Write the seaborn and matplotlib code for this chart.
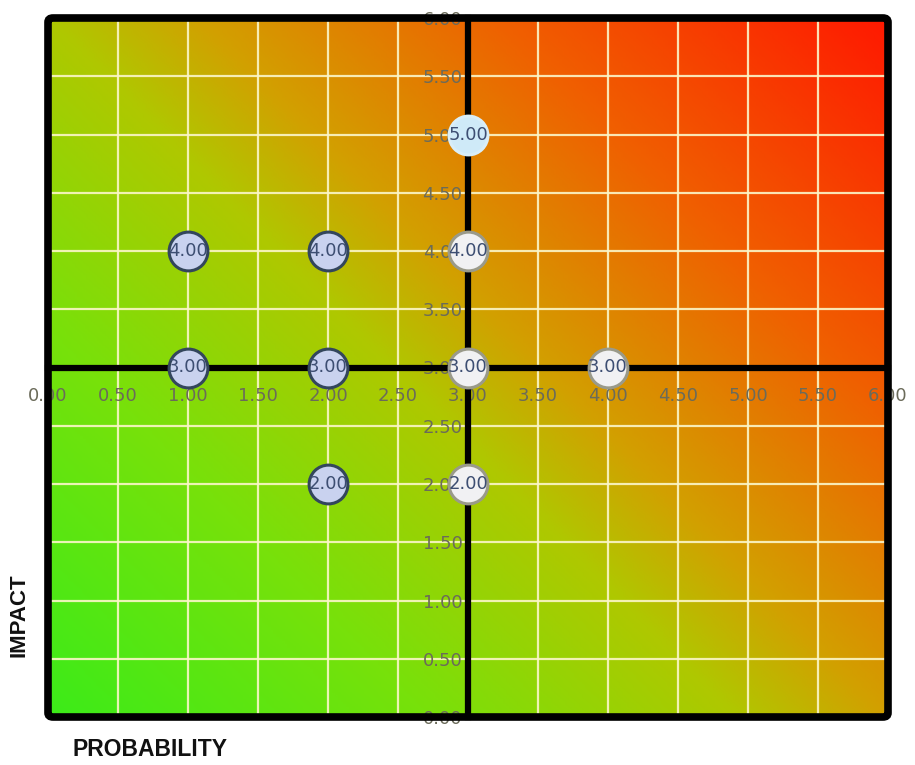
import numpy as np
import pandas as pd
import matplotlib
matplotlib.use('Agg')
import matplotlib.pyplot as plt
import seaborn as sns
from matplotlib.patches import FancyBboxPatch
from matplotlib.colors import LinearSegmentedColormap

# 데이터
probability = [1, 2, 3, 3, 1, 2, 3, 4, 2, 3]
impact = [4, 4, 5, 4, 3, 3, 3, 3, 2, 2]
group = ['blue', 'blue', 'sky', 'white', 'blue', 'blue', 'white', 'white', 'blue', 'white']
ticks = [0.0, 0.5, 1.0, 1.5, 2.0, 2.5, 3.0, 3.5, 4.0, 4.5, 5.0, 5.5, 6.0]

df = pd.DataFrame({'prob': probability, 'impact': impact, 'group': group})

sns.set_style('white')
plt.rcParams['font.family'] = ['DejaVu Sans']

fig = plt.figure(figsize=(9.15, 7.65), dpi=100)
ax = fig.add_axes([48/915, 1-717/765, 840/915, 699/765])

# 배경 그라데이션 (초록 -> 노랑 -> 빨강), 대각선 방향
cols = [(0.0, (60, 235, 25)), (0.25, (120, 225, 10)), (0.45, (175, 200, 0)),
        (0.55, (210, 160, 0)), (0.75, (240, 95, 0)), (1.0, (255, 25, 0))]
cmap = LinearSegmentedColormap.from_list('risk', [(p, tuple(c/255 for c in rgb)) for p, rgb in cols])
u = np.linspace(0, 1, 300)
U, V = np.meshgrid(u, u)
T = 0.55*U + 0.45*V
ax.imshow(T, cmap=cmap, vmin=0, vmax=1, extent=[0, 6, 0, 6], origin='lower',
          aspect='auto', zorder=0, interpolation='bilinear')

ax.set_xlim(0, 6)
ax.set_ylim(0, 6)
ax.set_xticks(ticks)
ax.set_yticks(ticks)
ax.set_xticklabels([f'{t:.2f}' for t in ticks])
ax.set_yticklabels([f'{t:.2f}' for t in ticks])
ax.set_axisbelow(True)
ax.grid(True, color='#fbf6c8', lw=1.6, alpha=0.9)
ax.tick_params(length=0, labelsize=13, labelcolor='#6b6b5a')
ax.tick_params(axis='x', pad=14)
ax.tick_params(axis='y', pad=4)

# 축을 가운데(3,3)로
ax.spines['left'].set_position(('data', 3))
ax.spines['bottom'].set_position(('data', 3))
for s in ['left', 'bottom']:
    ax.spines[s].set_linewidth(4.5)
    ax.spines[s].set_color('black')
for s in ['top', 'right']:
    ax.spines[s].set_visible(False)

frame = FancyBboxPatch((0, 0), 1, 1, boxstyle='round,pad=0,rounding_size=0.006',
                       transform=ax.transAxes, fill=False, lw=5.5, ec='black',
                       clip_on=False, zorder=2.6)
ax.add_patch(frame)

# 버블
pal = {'blue': '#c9d2ef', 'sky': '#cfeaf8', 'white': '#f1f1f3'}
edge = {'blue': '#33465c', 'sky': '#d9eef8', 'white': '#9a9a8a'}
for g in ['blue', 'sky', 'white']:
    sub = df[df.group == g]
    sns.scatterplot(data=sub, x='prob', y='impact', color=pal[g], s=780,
                    edgecolor=edge[g], linewidth=2.2, ax=ax, zorder=3, legend=False)

for x, y in zip(probability, impact):
    ax.text(x, y, f'{y:.2f}', ha='center', va='center', fontsize=13,
            color='#3d4e72', zorder=4)

ax.set_xlabel('')
ax.set_ylabel('')

fig.text(19/915, 1-615/765, 'IMPACT', rotation=90, ha='center', va='center',
         fontsize=16, fontweight='bold', family=['Liberation Sans', 'DejaVu Sans'], color='#111111')
fig.text(72/915, 1-750/765, 'PROBABILITY', ha='left', va='center',
         fontsize=16.5, fontweight='bold', family=['Liberation Sans', 'DejaVu Sans'], color='#111111')

fig.savefig('out.png', dpi=100)
